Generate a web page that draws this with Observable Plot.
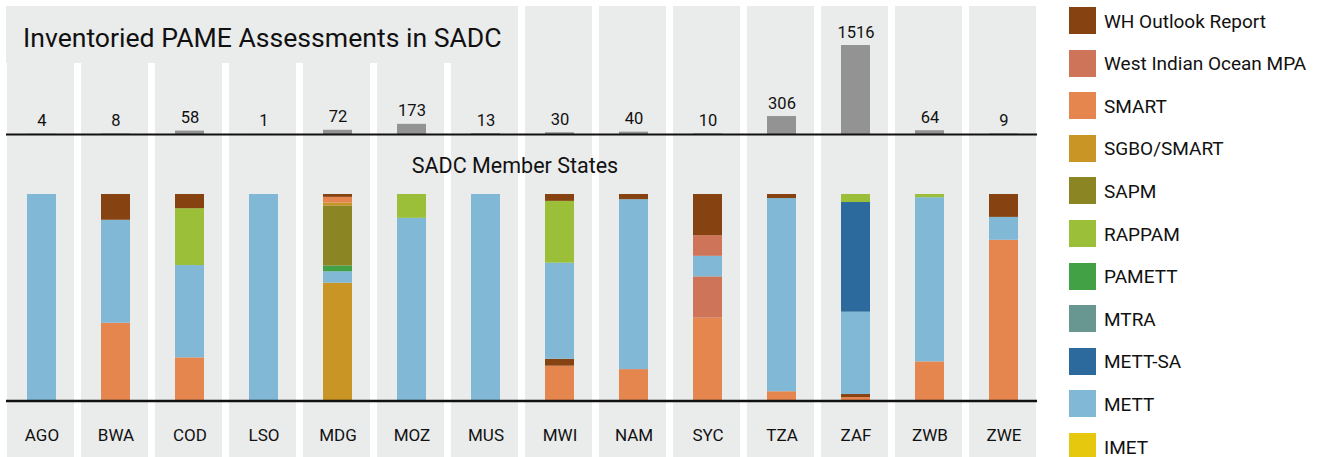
<!DOCTYPE html>
<html>
<head>
<meta charset="utf-8">
<script src="https://cdn.jsdelivr.net/npm/d3@7"></script>
<script src="https://cdn.jsdelivr.net/npm/@observablehq/plot@0.6"></script>
<style>
  html, body { margin: 0; padding: 0; background: #fff; }
  #wrap { position: relative; width: 1323px; height: 457px; overflow: hidden; font-family: Roboto, "Noto Sans", sans-serif; color: #111; }
  .layer { position: absolute; left: 0; top: 0; }
  #titlebox { position: absolute; left: 6px; top: 6px; width: 445px; height: 57px; background: #eaebeb; }
  #title { position: absolute; left: 23px; top: 25px; font-size: 26.6px; line-height: 26px; white-space: nowrap; }
  #subtitle { position: absolute; left: 515px; top: 155px; transform: translateX(-50%); font-size: 21.5px; line-height: 21.5px; white-space: nowrap; }
  .lg { position: absolute; left: 1069px; height: 27px; display: flex; align-items: center; white-space: nowrap; }
  .lg .sw { width: 27px; height: 27px; flex: none; }
  .lg .lb { margin-left: 8px; font-size: 19px; line-height: 22px; position: relative; top: 1px; }
</style>
</head>
<body>
<div id="wrap"></div>
<script>
// ---- data ----
const countries = ["AGO","BWA","COD","LSO","MDG","MOZ","MUS","MWI","NAM","SYC","TZA","ZAF","ZWB","ZWE"];
const totals    = [4, 8, 58, 1, 72, 173, 13, 30, 40, 10, 306, 1516, 64, 9];

const methods = ["WH Outlook Report","West Indian Ocean MPA","SMART","SGBO/SMART","SAPM","RAPPAM","PAMETT","MTRA","METT-SA","METT","IMET"];
const methodColors = ["#864311","#ce7459","#e5864f","#c99525","#8b8524","#9bbf39","#42a145","#689792","#2c6a9d","#80b8d6","#e6c80e"];

// stacked segments, bottom to top within each country
const segCountry = ["AGO",
  "BWA","BWA","BWA",
  "COD","COD","COD","COD",
  "LSO",
  "MDG","MDG","MDG","MDG","MDG","MDG","MDG",
  "MOZ","MOZ",
  "MUS",
  "MWI","MWI","MWI","MWI","MWI",
  "NAM","NAM","NAM",
  "SYC","SYC","SYC","SYC","SYC",
  "TZA","TZA","TZA",
  "ZAF","ZAF","ZAF","ZAF","ZAF",
  "ZWB","ZWB","ZWB",
  "ZWE","ZWE","ZWE"];
const segMethod = ["METT",
  "SMART","METT","WH Outlook Report",
  "SMART","METT","RAPPAM","WH Outlook Report",
  "METT",
  "SGBO/SMART","METT","PAMETT","SAPM","SGBO/SMART","SMART","WH Outlook Report",
  "METT","RAPPAM",
  "METT",
  "SMART","WH Outlook Report","METT","RAPPAM","WH Outlook Report",
  "SMART","METT","WH Outlook Report",
  "SMART","West Indian Ocean MPA","METT","West Indian Ocean MPA","WH Outlook Report",
  "SMART","METT","WH Outlook Report",
  "SMART","WH Outlook Report","METT","METT-SA","RAPPAM",
  "SMART","METT","RAPPAM",
  "SMART","METT","WH Outlook Report"];
const segCount = [4,
  3, 4, 1,
  12, 26, 16, 4,
  1,
  41, 4, 2, 21, 1, 2, 1,
  153, 20,
  13,
  5, 1, 14, 9, 1,
  6, 33, 1,
  4, 2, 1, 1, 2,
  13, 287, 6,
  22, 22, 606, 807, 59,
  12, 51, 1,
  7, 1, 1];

// ---- tables built from the arrays ----
const totalsData = countries.map((c, i) => ({country: c, total: totals[i]}));
const segments = segCountry.map((c, i) => ({country: c, method: segMethod[i], count: segCount[i]}));

const xScale = {type: "band", domain: countries, paddingInner: 0.0964, paddingOuter: 0, align: 0.5};
const common = {width: 1040, height: 457, marginTop: 6, marginLeft: 6, marginRight: 3,
  style: {fontFamily: "Roboto, 'Noto Sans', sans-serif", color: "#111", background: "transparent", overflow: "visible"}};

const wrap = document.getElementById("wrap");

// background panels + totals
const plotA = Plot.plot({
  ...common,
  marginBottom: 0,
  x: {...xScale, axis: null},
  y: {domain: [0, 1516], range: [134, 45], axis: null},
  marks: [
    Plot.cell(countries, {x: d => d, fill: "#eaebeb", inset: 0}),
    Plot.barY(totalsData, {x: "country", y: "total", fill: "#939393", insetLeft: 20, insetRight: 18}),
    Plot.ruleY([0], {stroke: "#111", strokeWidth: 2}),
    Plot.text(totalsData, {x: "country", y: "total", text: d => String(d.total), lineAnchor: "bottom", dy: -8, dx: 1, fontSize: 16.5, fill: "#111"})
  ]
});
plotA.classList.add("layer");
wrap.appendChild(plotA);

// title box
const tb = document.createElement("div");
tb.id = "titlebox";
wrap.appendChild(tb);
const title = document.createElement("div");
title.id = "title";
title.textContent = "Inventoried PAME Assessments in SADC";
wrap.appendChild(title);

// stacked composition
const plotB = Plot.plot({
  ...common,
  marginBottom: 40,
  x: {...xScale, label: null},
  y: {domain: [0, 1], range: [400, 194], axis: null},
  color: {domain: methods, range: methodColors},
  marks: [
    Plot.barY(segments, {x: "country", y: "count", fill: "method", offset: "normalize", insetLeft: 20, insetRight: 18}),
    Plot.ruleY([0], {stroke: "#111", strokeWidth: 2.5, dy: 0.5}),
    Plot.axisX({tickSize: 0, tickPadding: 11, fontSize: 17, dx: 1, label: null})
  ]
});
plotB.classList.add("layer");
wrap.appendChild(plotB);

const sub = document.createElement("div");
sub.id = "subtitle";
sub.textContent = "SADC Member States";
wrap.appendChild(sub);

// legend
methods.forEach((m, i) => {
  const row = document.createElement("div");
  row.className = "lg";
  row.style.top = (7 + i * 42.6) + "px";
  const sw = document.createElement("div");
  sw.className = "sw";
  sw.style.background = methodColors[i];
  const lb = document.createElement("span");
  lb.className = "lb";
  lb.textContent = m;
  row.appendChild(sw);
  row.appendChild(lb);
  wrap.appendChild(row);
});
</script>
</body>
</html>
